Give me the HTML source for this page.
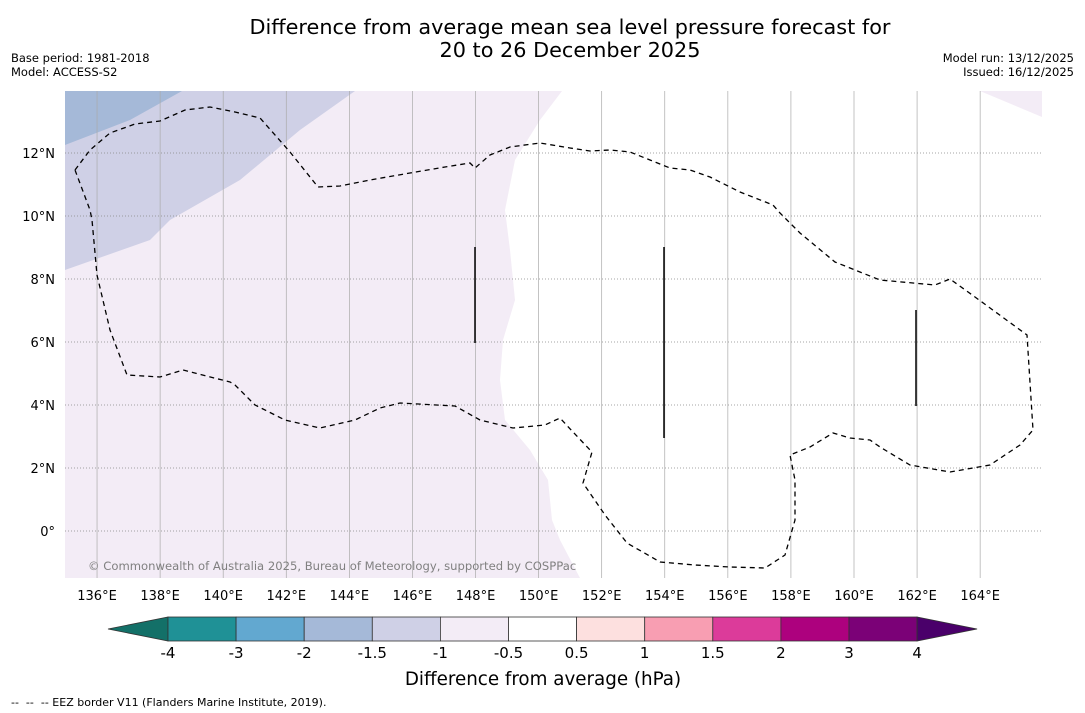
<!DOCTYPE html>
<html><head><meta charset="utf-8"><style>
body{margin:0;background:#fff;font-family:"DejaVu Sans",sans-serif;}
#wrap{position:relative;width:1085px;height:713px;overflow:hidden;}
</style></head><body>
<div id="wrap">
<svg id="svg" width="1085" height="713" xmlns="http://www.w3.org/2000/svg" font-family="DejaVu Sans, sans-serif">
<text x="570" y="34" text-anchor="middle" font-size="20.8">Difference from average mean sea level pressure forecast for</text>
<text x="570" y="57" text-anchor="middle" font-size="20.8">20 to 26 December 2025</text>
<text x="11" y="62" font-size="11.5">Base period: 1981-2018</text>
<text x="11" y="76" font-size="11.5">Model: ACCESS-S2</text>
<text x="1074" y="62" font-size="11.5" text-anchor="end">Model run: 13/12/2025</text>
<text x="1074" y="76" font-size="11.5" text-anchor="end">Issued: 16/12/2025</text>
<defs><clipPath id="mapclip"><rect x="65" y="91" width="977" height="487"/></clipPath></defs>
<g id="map" clip-path="url(#mapclip)">
<rect x="65" y="91" width="977" height="487" fill="#fff"/>
<path d="M65,91 L562,91 L540,120 L515,160 L505,210 L510,250 L515,300 L503,340 L500,380 L505,420 L530,450 L548,480 L552,520 L560,540 L580,578 L65,578 Z" fill="#f3ecf6"/>
<path d="M65,91 L355,91 L300,130 L240,180 L170,220 L150,240 L65,270 Z" fill="#cfd0e6"/>
<path d="M65,91 L182,91 L130,120 L65,145 Z" fill="#a5b9d8"/>
<path d="M980,91 L1042,91 L1042,117 Z" fill="#f3ecf6"/>
<g id="grid"></g>
<path d="M75,170 L90,150 L110,133 L135,124 L160,121 L185,110 L210,107 L235,112 L260,118 L290,152 L318,187 L340,186 L370,180 L410,173 L445,167 L470,163 L475,168 L490,155 L510,147 L540,143 L570,148 L590,151 L610,150 L630,152 L650,160 L670,168 L690,170 L710,177 L740,192 L773,205 L780,213 L800,233 L835,262 L880,280 L935,285 L950,279 L975,297 L1027,335 L1033,430 L1020,445 L990,465 L950,472 L910,465 L880,447 L870,440 L850,438 L833,433 L810,447 L790,455 L795,480 L795,520 L785,555 L765,568 L730,567 L695,565 L660,562 L627,543 L605,515 L583,483 L592,452 L573,432 L560,418 L545,425 L513,428 L480,420 L455,406 L400,403 L380,408 L355,420 L320,428 L285,420 L255,405 L235,385 L230,382 L183,370 L160,377 L127,375 L110,330 L97,275 L92,220 L90,210 Z" fill="none" stroke="#000" stroke-width="1.3" stroke-dasharray="5,4"/>
<line x1="475" y1="247" x2="475" y2="343" stroke="#000" stroke-width="1.5"/>
<line x1="664" y1="247" x2="664" y2="438" stroke="#000" stroke-width="1.5"/>
<line x1="916" y1="310" x2="916" y2="406" stroke="#000" stroke-width="1.5"/>
<text x="88" y="570" font-size="11.6" fill="#808080">© Commonwealth of Australia 2025, Bureau of Meteorology, supported by COSPPac</text>
</g>
<g id="ticks"></g>
<g id="cbar"></g>
<text x="543" y="685" text-anchor="middle" font-size="18.3">Difference from average (hPa)</text>
<text x="11" y="706" font-size="11" xml:space="preserve">--  --  -- EEZ border V11 (Flanders Marine Institute, 2019).</text>
</svg>
</div>
<script>
const lonTicks=[136,138,140,142,144,146,148,150,152,154,156,158,160,162,164];
const latTicks=[12,10,8,6,4,2,0];
const cbBounds=[-4,-3,-2,-1.5,-1,-0.5,0.5,1,1.5,2,3,4];
const cbColors=["#1f9196","#62a8d0","#a5b9d8","#cfd0e6","#f3ecf6","#ffffff","#fde0df","#f89eb2","#dc3b9a","#ad017e","#7b0177"];
const cbLow="#137068", cbHigh="#4a006a";
const NS="http://www.w3.org/2000/svg";
function xLon(l){return 65.5+(l-135)*31.54;}
function yLat(l){return 531-l*31.5;}
function mk(t,a,p){const e=document.createElementNS(NS,t);for(const k in a)e.setAttribute(k,a[k]);p.appendChild(e);return e;}
const grid=document.getElementById('grid'),ticks=document.getElementById('ticks'),cb=document.getElementById('cbar');
lonTicks.forEach(l=>{const x=xLon(l);
 const g=mk('line',{x1:x,y1:91,x2:x,y2:578,stroke:'#aaa','stroke-width':0.7},grid);
 
 
 const t=mk('text',{x:x,y:600,'text-anchor':'middle','font-size':13},ticks);t.textContent=l+'°E';
 
 });
latTicks.forEach(l=>{const y=yLat(l);
 const g=mk('line',{x1:65,y1:y,x2:1042,y2:y,stroke:'#888','stroke-width':0.8,'stroke-dasharray':'1,2'},grid);
 
 
 const t=mk('text',{x:55,y:y+5,'text-anchor':'end','font-size':13},ticks);t.textContent=l===0?'0°':l+'°N';
 
 });
const cx0=168,cw=68.1,cy=617,ch=24;
const ta=mk('polygon',{points:`108,${cy+ch/2} ${cx0},${cy} ${cx0},${cy+ch}`,fill:cbLow,stroke:'#333','stroke-width':0.8},cb);


cbColors.forEach((c,i)=>{const r=mk('rect',{x:cx0+i*cw,y:cy,width:cw,height:ch,fill:c,stroke:'#333','stroke-width':0.8},cb);
 
 });
const xe=cx0+cbColors.length*cw;
const tb=mk('polygon',{points:`${xe},${cy} ${xe+60},${cy+ch/2} ${xe},${cy+ch}`,fill:cbHigh,stroke:'#333','stroke-width':0.8},cb);


cbBounds.forEach((b,i)=>{const t=mk('text',{x:cx0+i*cw,y:658,'text-anchor':'middle','font-size':15},cb);t.textContent=b;
 
 });
</script>
</body></html>
